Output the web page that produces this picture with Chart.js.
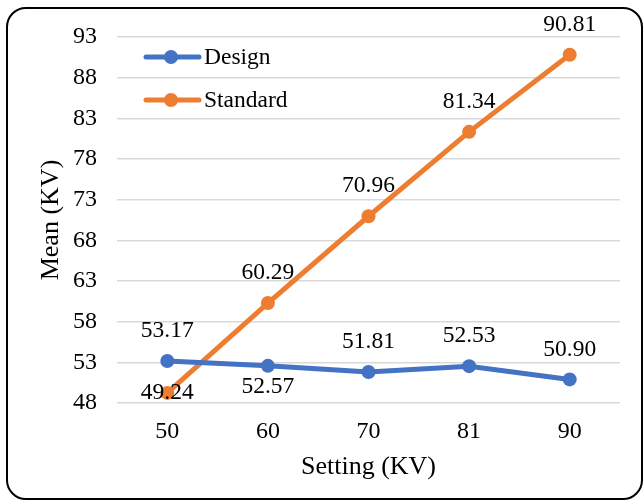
<!DOCTYPE html>
<html>
<head>
<meta charset="utf-8">
<script src="https://cdn.jsdelivr.net/npm/chart.js@4/dist/chart.umd.min.js"></script>
<style>
  body { margin: 0; background: #fff; }
  #frame {
    position: absolute; left: 6px; top: 7px; width: 637px; height: 493px;
    box-sizing: border-box; border: 2px solid #000; border-radius: 20px;
  }
  #wrap { position: absolute; left: 0; top: 0; width: 644px; height: 502px; }
</style>
</head>
<body>
<div id="frame"></div>
<div id="wrap"><canvas id="chart"></canvas></div>
<script>
const settings = ["50", "60", "70", "81", "90"];
const designMean = [53.17, 52.57, 51.81, 52.53, 50.90];
const standardMean = [49.24, 60.29, 70.96, 81.34, 90.81];

const FONT = "'Liberation Serif', 'Times New Roman', serif";

// where each value label sits relative to its point
const designLabelPos = ["above", "below", "above", "above", "above"];
const standardLabelPos = ["center", "above", "above", "above", "above"];

// value labels drawn next to the points
const valueLabels = {
    id: "valueLabels",
    afterDatasetsDraw(chart) {
        const ctx = chart.ctx;
        ctx.save();
        ctx.font = "23.5px " + FONT;
        ctx.fillStyle = "#000";
        ctx.textAlign = "center";
        ctx.textBaseline = "middle";
        chart.data.datasets.forEach((ds, i) => {
            const meta = chart.getDatasetMeta(i);
            meta.data.forEach((pt, j) => {
                const pos = ds.labelPos[j];
                let dy = -30;
                if (pos === "below") dy = 21;
                if (pos === "center") dy = 0;
                ctx.fillText(ds.data[j].toFixed(2), pt.x, pt.y + dy);
            });
        });
        ctx.restore();
    }
};

// legend inside the plot, top left
const innerLegend = {
    id: "innerLegend",
    afterDraw(chart) {
        const ctx = chart.ctx;
        ctx.save();
        ctx.font = "23.5px " + FONT;
        ctx.textBaseline = "middle";
        chart.data.datasets.forEach((ds, i) => {
            const y = 57 + i * 43;
            ctx.strokeStyle = ds.borderColor;
            ctx.lineWidth = 5;
            ctx.lineCap = "round";
            ctx.beginPath();
            ctx.moveTo(146, y);
            ctx.lineTo(199, y);
            ctx.stroke();
            ctx.fillStyle = ds.borderColor;
            ctx.beginPath();
            ctx.arc(171, y, 7, 0, Math.PI * 2);
            ctx.fill();
            ctx.fillStyle = "#000";
            ctx.fillText(ds.label, 204, y + 1);
        });
        ctx.restore();
    }
};

new Chart(document.getElementById("chart"), {
    type: "line",
    data: {
        labels: settings,
        datasets: [
            {
                label: "Design",
                data: designMean,
                labelPos: designLabelPos,
                borderColor: "#4472C4",
                backgroundColor: "#4472C4",
                borderWidth: 5,
                pointRadius: 7,
                pointBorderWidth: 0,
                tension: 0
            },
            {
                label: "Standard",
                data: standardMean,
                labelPos: standardLabelPos,
                borderColor: "#ED7D31",
                backgroundColor: "#ED7D31",
                borderWidth: 5,
                pointRadius: 7,
                pointBorderWidth: 0,
                tension: 0
            }
        ]
    },
    options: {
        responsive: true,
        maintainAspectRatio: false,
        animation: false,
        layout: { padding: { top: 37, right: 24, left: 0, bottom: 0 } },
        plugins: {
            legend: { display: false },
            tooltip: { enabled: false }
        },
        scales: {
            x: {
                offset: true,
                grid: { display: false, drawTicks: false },
                border: { display: false },
                ticks: { color: "#000", font: { family: FONT, size: 24 }, padding: 14 },
                title: {
                    display: true, text: "Setting (KV)", color: "#000",
                    font: { family: FONT, size: 26 }, padding: { bottom: 19 }
                },
                afterFit: s => { s.height = 99; }
            },
            y: {
                min: 48,
                max: 93,
                grid: { color: "#d9d9d9", lineWidth: 1.5, drawTicks: false },
                border: { display: false },
                ticks: { stepSize: 5, color: "#000", font: { family: FONT, size: 24 }, padding: 20 },
                title: {
                    display: true, text: "Mean (KV)", color: "#000",
                    font: { family: FONT, size: 26 }, padding: { top: 36 }
                },
                afterFit: s => { s.width = 117; }
            }
        }
    },
    plugins: [valueLabels, innerLegend]
});
</script>
</body>
</html>
